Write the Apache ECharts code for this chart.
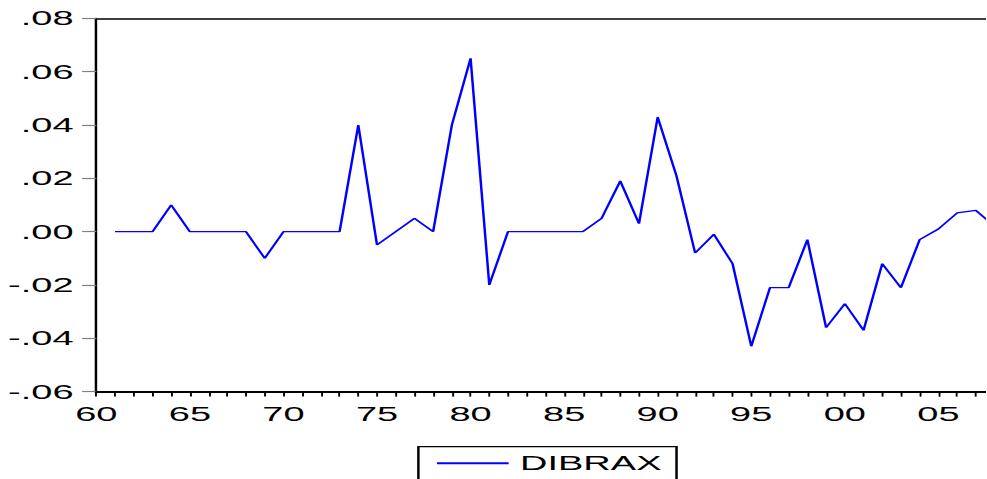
<!DOCTYPE html>
<html>
<head>
<meta charset="utf-8">
<script src="https://cdn.jsdelivr.net/npm/echarts@6/dist/echarts.min.js"></script>
<style>
  html, body { margin: 0; padding: 0; background: #fff; overflow: hidden; width: 987px; height: 479px; }
  /* EViews-style wide lettering: draw at a narrower width and stretch horizontally */
  #main { width: 519.47px; height: 479px; transform: scaleX(1.9); transform-origin: 0 0; }
</style>
</head>
<body>
<div id="main"></div>
<script>
// Annual observations of DIBRAX
const years = [
  1961, 1962, 1963, 1964, 1965, 1966, 1967, 1968, 1969, 1970,
  1971, 1972, 1973, 1974, 1975, 1976, 1977, 1978, 1979, 1980,
  1981, 1982, 1983, 1984, 1985, 1986, 1987, 1988, 1989, 1990,
  1991, 1992, 1993, 1994, 1995, 1996, 1997, 1998, 1999, 2000,
  2001, 2002, 2003, 2004, 2005, 2006, 2007, 2008
];
const dibrax = [
  0.000, 0.000, 0.000, 0.010, 0.000, 0.000, 0.000, 0.000, -0.010, 0.000,
  0.000, 0.000, 0.000, 0.040, -0.005, 0.000, 0.005, 0.000, 0.040, 0.065,
  -0.020, 0.000, 0.000, 0.000, 0.000, 0.000, 0.005, 0.019, 0.003, 0.043,
  0.021, -0.008, -0.001, -0.012, -0.043, -0.021, -0.021, -0.003, -0.036, -0.027,
  -0.037, -0.012, -0.021, -0.003, 0.001, 0.007, 0.008, 0.002
];

// Axis tick labels
const xTickYears  = [1960, 1965, 1970, 1975, 1980, 1985, 1990, 1995, 2000, 2005];
const xTickLabels = ['60', '65', '70', '75', '80', '85', '90', '95', '00', '05'];
const yTickValues = [-0.06, -0.04, -0.02, 0.00, 0.02, 0.04, 0.06, 0.08];
const yTickLabels = ['-.06', '-.04', '-.02', '.00', '.02', '.04', '.06', '.08'];

function lookup(values, labels, v) {
  const i = values.findIndex(t => Math.abs(t - v) < 1e-9);
  return i >= 0 ? labels[i] : '';
}

const FONT = 'Liberation Sans, Arial, sans-serif';
const X_MIN = 1960, X_MAX = 2007.55;

const chart = echarts.init(document.getElementById('main'), null, { renderer: 'svg' });
chart.setOption({
  animation: false,
  backgroundColor: '#ffffff',
  grid: { left: 50.7, right: 0, top: 18.4, bottom: 87.4, containLabel: false },
  legend: {
    data: ['DIBRAX'],
    left: 220.2,
    top: 446.7,
    padding: [6.6, 7.9, 8, 8.8],
    itemWidth: 37.7,
    itemHeight: 14,
    borderColor: '#000',
    borderWidth: 1.3,
    itemStyle: { opacity: 0 },
    textStyle: { fontFamily: FONT, fontSize: 20, color: '#000', padding: [0, 0, 0, 1] }
  },
  xAxis: [{
    type: 'value',
    min: X_MIN,
    max: X_MAX,
    interval: 5,
    axisLine: { show: true, onZero: false, lineStyle: { color: '#000', width: 2 } },
    axisTick: { show: true, inside: false, length: 5, lineStyle: { color: '#000', width: 1 } },
    minorTick: { show: true, splitNumber: 5, length: 5, lineStyle: { color: '#000', width: 1 } },
    splitLine: { show: false },
    minorSplitLine: { show: false },
    axisLabel: {
      margin: 12,
      fontFamily: FONT,
      fontSize: 20,
      color: '#000',
      showMaxLabel: false,
      formatter: v => lookup(xTickYears, xTickLabels, v)
    }
  }, {
    // top frame line
    type: 'value',
    position: 'top',
    min: X_MIN,
    max: X_MAX,
    axisLine: { show: true, onZero: false, lineStyle: { color: '#000', width: 1.7 } },
    axisTick: { show: false },
    axisLabel: { show: false },
    splitLine: { show: false }
  }],
  yAxis: {
    type: 'value',
    min: -0.06,
    max: 0.08,
    interval: 0.02,
    axisLine: { show: true, onZero: false, lineStyle: { color: '#000', width: 1.3 } },
    axisTick: { show: true, inside: false, length: 7.5, lineStyle: { color: '#808080', width: 1.2 } },
    splitLine: { show: false },
    axisLabel: {
      margin: 12,
      fontFamily: FONT,
      fontSize: 20,
      color: '#000',
      formatter: v => lookup(yTickValues, yTickLabels, v)
    }
  },
  series: [{
    name: 'DIBRAX',
    type: 'line',
    xAxisIndex: 0,
    symbol: 'none',
    showSymbol: false,
    clip: true,
    lineStyle: { color: '#0000ff', width: 1.3 },
    itemStyle: { color: '#0000ff' },
    data: years.map((y, i) => [y, dibrax[i]])
  }]
});
</script>
</body>
</html>
